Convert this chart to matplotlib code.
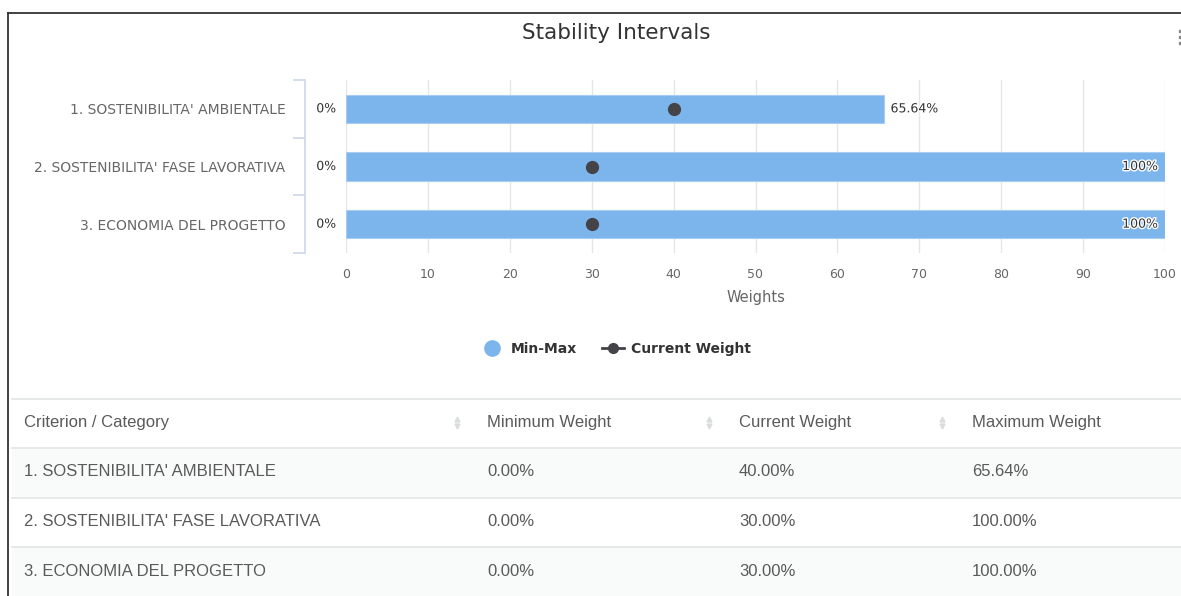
import numpy as np
import matplotlib.pyplot as plt
import matplotlib.patheffects as pe
from matplotlib.lines import Line2D

# chart data
categories = ["1. SOSTENIBILITA' AMBIENTALE",
              "2. SOSTENIBILITA' FASE LAVORATIVA",
              "3. ECONOMIA DEL PROGETTO"]
min_weight = [0.0, 0.0, 0.0]
current_weight = [40.0, 30.0, 30.0]
max_weight = [65.64, 100.0, 100.0]
x_ticks = [0, 10, 20, 30, 40, 50, 60, 70, 80, 90, 100]
headers = ["Criterion / Category", "Minimum Weight", "Current Weight", "Maximum Weight"]

W, H = 1181, 596
fig = plt.figure(figsize=(W / 100, H / 100), dpi=100)

# background layer in pixel coords: frame + table
tax = fig.add_axes([0, 0, 1, 1], zorder=-1)
tax.set_xlim(0, W)
tax.set_ylim(H, 0)
tax.axis('off')
tax.plot([8, 8], [13, H], color='#333333', lw=1.3)
tax.plot([8, W], [13, 13], color='#333333', lw=1.3)
tax.plot([1179.5] * 3, [31, 37, 43], 's', ms=1.6, color='#888888')  # menu icon, cut at edge

row_top = [399, 448, 498, 547]
row_h = [49, 50, 49, 49]
col_x = [24, 487, 739, 972]
sort_x = [457, 709, 942]
for k, (t, h) in enumerate(zip(row_top, row_h)):
    if k in (1, 3):
        tax.axhspan(t, t + h, xmin=12 / W, xmax=1, color='#f9fafa', lw=0)
    tax.plot([12, W], [t, t], color='#e6e9e9', lw=1.4)

tfont = dict(family=['Liberation Sans', 'DejaVu Sans'], size=12, color='#5a5a5a', va='center')
for x, h in zip(col_x, headers):
    tax.text(x, row_top[0] + 24, h, **tfont)
for x in sort_x:
    tax.plot(x, row_top[0] + 20, marker='^', ms=3.5, color='#dadddd')
    tax.plot(x, row_top[0] + 27, marker='v', ms=3.5, color='#dadddd')
for i, cat in enumerate(categories):
    yc = row_top[i + 1] + 24
    vals = [cat, f"{min_weight[i]:.2f}%", f"{current_weight[i]:.2f}%", f"{max_weight[i]:.2f}%"]
    for x, v in zip(col_x, vals):
        tax.text(x, yc, v, **tfont)

# chart
ax = fig.add_axes([346 / W, 1 - 253 / H, (1165 - 346) / W, (253 - 80) / H])
y = np.arange(len(categories))
ax.barh(y, np.subtract(max_weight, min_weight), left=min_weight, height=0.49,
        color='#7cb5ec', edgecolor='#a9cdf2', lw=0.8, zorder=2)
ax.plot(current_weight, y, 'o', color='#434348', ms=8.5, zorder=3)

outline = [pe.withStroke(linewidth=2, foreground='white')]
lbl = dict(textcoords='offset points', va='center', fontsize=9, color='#333333',
           path_effects=outline)
for i in range(len(categories)):
    ax.annotate(f"{min_weight[i]:g}%", (min_weight[i], i), xytext=(-7, 0), ha='right', **lbl)
    if max_weight[i] > 90:
        ax.annotate(f"{max_weight[i]:g}%", (max_weight[i], i), xytext=(-5, 0), ha='right', **lbl)
    else:
        ax.annotate(f"{max_weight[i]:g}%", (max_weight[i], i), xytext=(5, 0), ha='left', **lbl)

ax.set_xlim(0, 100)
ax.set_ylim(len(categories) - 0.5, -0.5)
ax.set_xticks(x_ticks)
ax.tick_params(axis='x', length=0, pad=11, labelcolor='#666666', labelsize=9)
ax.grid(axis='x', color='#e6e6e6', lw=1)
ax.set_axisbelow(True)
ax.set_xlabel('Weights', fontsize=10.5, color='#666666', labelpad=6)

ax.set_yticks(y)
ax.set_yticklabels(categories)
ax.tick_params(axis='y', which='major', length=0, pad=14, labelcolor='#666666', labelsize=10)
ax.set_yticks(np.arange(len(categories) + 1) - 0.5, minor=True)
ax.tick_params(axis='y', which='minor', length=8.5, width=1.2, color='#ccd6eb', direction='out')
ax.spines['left'].set_position(('outward', 29.5))
ax.spines['left'].set_color('#ccd6eb')
ax.spines['left'].set_linewidth(1.2)
for s in ('top', 'right', 'bottom'):
    ax.spines[s].set_visible(False)

fig.text(616 / W, 1 - 33 / H, 'Stability Intervals', ha='center', va='center',
         fontsize=15.5, color='#333333')

handles = [Line2D([], [], marker='o', ls='none', color='#7cb5ec', ms=11),
           Line2D([], [], marker='o', color='#434348', ms=7, lw=2)]
fig.legend(handles, ['Min-Max', 'Current Weight'], loc='center',
           bbox_to_anchor=(616 / W, 1 - 349 / H), ncol=2, frameon=False,
           prop={'weight': 'bold', 'size': 10}, labelcolor='#333333',
           handlelength=1.6, handletextpad=0.5, columnspacing=1.8)

fig.savefig('out.png', dpi=100)
